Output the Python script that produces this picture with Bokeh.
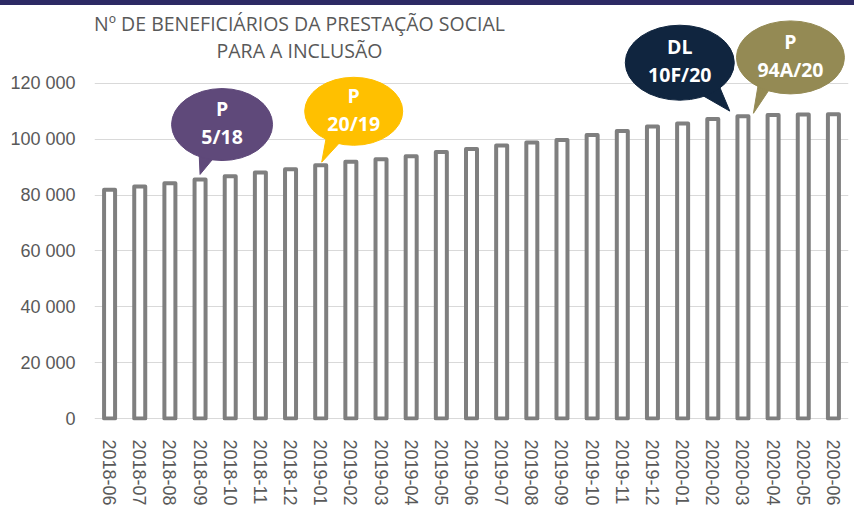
from bokeh.plotting import figure
from bokeh.models import FactorRange, Range1d, FixedTicker, Label, Div
from bokeh.layouts import column
from bokeh.core.properties import value
from bokeh.embed import file_html
from bokeh.resources import INLINE

# ---------------- data ----------------
months = ["2018-06", "2018-07", "2018-08", "2018-09", "2018-10", "2018-11", "2018-12",
          "2019-01", "2019-02", "2019-03", "2019-04", "2019-05", "2019-06", "2019-07",
          "2019-08", "2019-09", "2019-10", "2019-11", "2019-12", "2020-01", "2020-02",
          "2020-03", "2020-04", "2020-05", "2020-06"]
beneficiaries = [81900, 83100, 84200, 85600, 86700, 88100, 89200, 90700, 91900, 92800,
                 93900, 95400, 96500, 97700, 98800, 99700, 101500, 102900, 104500, 105600,
                 107200, 108200, 108700, 108800, 108900]
y_ticks = [0, 20000, 40000, 60000, 80000, 100000, 120000]
y_tick_labels = ["0", "20 000", "40 000", "60 000", "80 000", "100 000", "120 000"]
title_lines = ["Nº DE BENEFICIÁRIOS DA PRESTAÇÃO SOCIAL", "PARA A INCLUSÃO"]
callout_months = ["2018-09", "2019-01", "2020-02", "2020-03"]
callout_kinds = ["P", "P", "DL", "P"]
callout_refs = ["5/18", "20/19", "10F/20", "94A/20"]

# ---------------- layout / style ----------------
W, BAND_H, H = 854, 5, 503
FRAME_L, FRAME_R = 94, 848
BORDER_TOP, BORDER_BOTTOM = 1, 87
ZERO_PAGE_Y = 419            # page y of value 0
FRAME_BOTTOM_PAGE_Y = BAND_H + H - BORDER_BOTTOM
Y_PER_PX = 20000 / 56.0
X_PER_PX = len(months) / float(FRAME_R - FRAME_L)
y_start = -(FRAME_BOTTOM_PAGE_Y - ZERO_PAGE_Y) * Y_PER_PX
y_end = (ZERO_PAGE_Y - (BAND_H + BORDER_TOP)) * Y_PER_PX

GRAY_TXT = "#595959"
callout_colors = ["#5f497a", "#ffc000", "#10253f", "#948a54"]
# pixel geometry relative to the bar top (tip) and to the tip (rest)
tip_off = [(0, -5), (1, -3), (17, -8), (10.5, -3)]
center_off = [(22, -50), (32, -51), (-50, -48.5), (37, -56)]
base_l = [(-1, -23), (5, -27), (-33, -19), (5, -30)]
base_r = [(19, -23), (22, -24), (-13, -31), (22, -33)]
bubble_w = [101, 98, 109, 108]
bubble_h = [72, 68, 75, 73]

p = figure(width=W, height=H, x_range=FactorRange(*months),
           y_range=Range1d(y_start, y_end), output_backend="svg",
           toolbar_location=None, min_border_left=FRAME_L,
           min_border_right=W - FRAME_R, min_border_top=BORDER_TOP,
           min_border_bottom=BORDER_BOTTOM)
p.outline_line_color = None
p.background_fill_color = "white"
p.border_fill_color = "white"

p.xgrid.grid_line_color = None
p.ygrid.grid_line_color = "#d9d9d9"
p.ygrid.grid_line_width = 1.2

p.yaxis.ticker = FixedTicker(ticks=y_ticks)
p.yaxis.major_label_overrides = {t: l for t, l in zip(y_ticks, y_tick_labels)}
p.yaxis.axis_line_color = None
p.yaxis.major_tick_line_color = None
p.yaxis.minor_tick_line_color = None
p.yaxis.major_tick_out = 0
p.yaxis.major_label_standoff = 19
p.yaxis.major_label_text_font = "Liberation Sans"
p.yaxis.major_label_text_font_size = "18px"
p.yaxis.major_label_text_color = GRAY_TXT

p.xaxis.axis_line_color = None
p.xaxis.major_tick_line_color = None
p.xaxis.minor_tick_line_color = None
p.xaxis.major_tick_out = 0
p.xaxis.major_tick_in = 0
p.xaxis.major_label_standoff = 19
p.xaxis.major_label_orientation = "vertical"
p.xaxis.major_label_text_font = "Liberation Sans"
p.xaxis.major_label_text_font_size = "18px"
p.xaxis.major_label_text_color = GRAY_TXT

p.vbar(x=months, top=beneficiaries, width=0.365, fill_color="white",
       line_color="#7f7f7f", line_width=4, line_join="round")

# callouts
for k, m in enumerate(callout_months):
    i = months.index(m)
    tx = i + 0.5 + tip_off[k][0] * X_PER_PX
    ty = beneficiaries[i] - tip_off[k][1] * Y_PER_PX

    def pt(off):
        return tx + off[0] * X_PER_PX, ty - off[1] * Y_PER_PX

    cx, cy = pt(center_off[k])
    lx, ly = pt(base_l[k])
    rx, ry = pt(base_r[k])
    col = callout_colors[k]
    p.patch([tx, lx, rx], [ty, ly, ry], fill_color=col, line_color=col, line_width=1)
    p.ellipse(x=[cx], y=[cy], width=bubble_w[k], height=bubble_h[k],
              width_units="screen", height_units="screen",
              fill_color=col, line_color=col)
    p.text(x=[cx, cx], y=[cy + 16 * Y_PER_PX, cy - 12 * Y_PER_PX],
           text=[callout_kinds[k], callout_refs[k]],
           text_font=value("Open Sans"), text_font_style="bold",
           text_font_size="19.5px", text_color="white",
           text_align="center", text_baseline="middle")

# title
title_cx = (299 - FRAME_L) * X_PER_PX
for line, py in zip(title_lines, [23, 50]):
    p.add_layout(Label(x=title_cx, y=(ZERO_PAGE_Y - py) * Y_PER_PX, text=line,
                       text_font="Open Sans", text_font_size="19.5px",
                       text_color=GRAY_TXT, text_align="center",
                       text_baseline="middle"))

band = Div(text="", width=W, height=BAND_H, margin=0,
           styles={"background-color": "#2d2a64"})
layout = column(band, p, spacing=0)

open("out.html", "w").write(file_html(layout, INLINE))
